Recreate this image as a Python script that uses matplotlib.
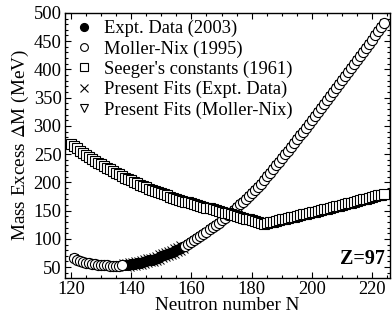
import numpy as np
import matplotlib
matplotlib.use("Agg")
import matplotlib.pyplot as plt
from matplotlib.ticker import MultipleLocator

plt.rcParams['font.family'] = ['Liberation Serif', 'DejaVu Serif']
plt.rcParams['mathtext.fontset'] = 'stix'

# Moller-Nix (1995), N = 121..224
mn_N = list(range(121, 225))
mn_M = [66, 63, 61, 59, 58, 57, 56, 55, 54.5, 54, 53.5, 53, 52.5, 52.5, 52.5, 52.5, 53,
        53.5, 54, 55, 56, 57, 58, 59, 60.5, 62, 63.5, 65, 67, 69, 71, 73, 75, 77.5, 80,
        82.5, 85, 88, 91, 94, 97.5, 101, 105, 109, 113, 117, 121, 125, 129, 133, 137.5,
        142, 146.5, 151, 156, 161, 166, 171, 176, 181, 186.5, 192, 198, 204, 210.5, 217,
        223.5, 230, 236.5, 243, 249.5, 256, 263, 270, 276.5, 283, 290, 297, 304, 311,
        318, 325, 332, 339, 346, 353, 360, 367, 374, 381, 388, 395, 402, 409, 416, 423,
        430, 437.5, 445, 452.5, 460, 467.5, 475, 482.5]

# Expt. Data (2003), N = 138..157
ex_N = list(range(138, 158))
ex_M = [53.5, 54.2, 55, 56, 57, 58.2, 59.3, 60.6, 62, 63.5, 65.2, 67, 69, 71, 73.2,
        75.3, 77.6, 80, 82.6, 85.2]

# Seeger's constants (1961), N = 120..224
sg_N = list(range(120, 225))
sg_M = [268, 264, 260, 256, 252.5, 249, 245.5, 242, 238.5, 235, 232, 229, 226, 223, 220,
        217, 214, 211, 208.5, 206, 203.5, 201, 198.5, 196, 193.5, 191, 189, 187, 185,
        183, 181, 179, 177, 175, 173, 171, 169, 167.5, 166, 164.5, 163, 161.5, 160,
        158.5, 157, 155.5, 154, 152.5, 151, 149.5, 148, 146.5, 145, 143.5, 142, 140.5,
        139, 137.5, 136, 134.5, 133, 131.5, 130, 128.5, 127,
        128.2, 129.5, 130.7, 132, 133.2, 134.5, 135.7, 137, 138.2, 139.5, 140.7, 142,
        143.2, 144.5, 145.7, 147, 148.3, 149.6, 150.9, 152.2, 153.5, 154.8, 156.1,
        157.4, 158.7, 160, 161.4, 162.8, 164.2, 165.6, 167, 168.4, 169.8, 171.2, 172.6,
        174, 175.5, 177, 178.5, 180]

fig = plt.figure(figsize=(3.92, 3.22), dpi=100)
ax = fig.add_axes([0.166, 0.137, 0.829, 0.823])

mn_N = np.array(mn_N)
mn_M = np.array(mn_M)
outside = (mn_N < ex_N[0]) | (mn_N > ex_N[-1])

ms = 7.3
ax.plot(mn_N, mn_M, 'v', ms=ms * 0.8, mfc='white', mec='black', mew=0.7, ls='none', zorder=1)
ax.plot(ex_N, ex_M, 'o', ms=ms, mfc='black', mec='black', mew=0.7, ls='none', zorder=2)
ax.plot(ex_N, ex_M, 'x', ms=ms + 1.5, mec='black', mew=0.7, ls='none', zorder=3)
ax.plot(mn_N[outside], mn_M[outside], 'o', ms=ms, mfc='white', mec='black', mew=0.8, ls='none', zorder=4)
ax.plot(sg_N, sg_M, 's', ms=ms * 0.95, mfc='white', mec='black', mew=0.8, ls='none', zorder=5)

# legend handles
h1, = ax.plot([], [], 'o', ms=7, mfc='black', mec='black')
h2, = ax.plot([], [], 'o', ms=7, mfc='white', mec='black', mew=0.8)
h3, = ax.plot([], [], 's', ms=7, mfc='white', mec='black', mew=0.8)
h4, = ax.plot([], [], 'x', ms=8, mec='black', mew=0.8)
h5, = ax.plot([], [], 'v', ms=7, mfc='white', mec='black', mew=0.8)
ax.legend([h1, h2, h3, h4, h5],
          ['Expt. Data (2003)', 'Moller-Nix (1995)', "Seeger's constants (1961)",
           'Present Fits (Expt. Data)', 'Present Fits (Moller-Nix)'],
          loc='upper left', frameon=False, fontsize=13.3, markerscale=0.8,
          handlelength=1.0, handletextpad=0.6, labelspacing=0.17,
          borderaxespad=0.0, borderpad=0.3, bbox_to_anchor=(0.012, 0.995))

ax.text(0.985, 0.035, 'Z=97', transform=ax.transAxes, ha='right', va='bottom',
        fontsize=14.5, fontweight='bold')

ax.set_xlim(118, 226)
ax.set_ylim(31, 500)
ax.xaxis.set_major_locator(MultipleLocator(20))
ax.xaxis.set_minor_locator(MultipleLocator(5))
ax.yaxis.set_major_locator(MultipleLocator(50))
ax.yaxis.set_minor_locator(MultipleLocator(10))
ax.tick_params(which='both', direction='in', top=True, right=True, labelsize=13.3)
ax.tick_params(which='major', length=4.5, width=0.8, pad=2.5)
ax.tick_params(which='minor', length=2.5, width=0.8)
for s in ax.spines.values():
    s.set_linewidth(1.0)

ax.set_xlabel('Neutron number N', fontsize=13.8, labelpad=-1)
ax.set_ylabel('Mass Excess $\\Delta$M (MeV)', fontsize=13.8, labelpad=2)

fig.savefig('out.png', dpi=100)
